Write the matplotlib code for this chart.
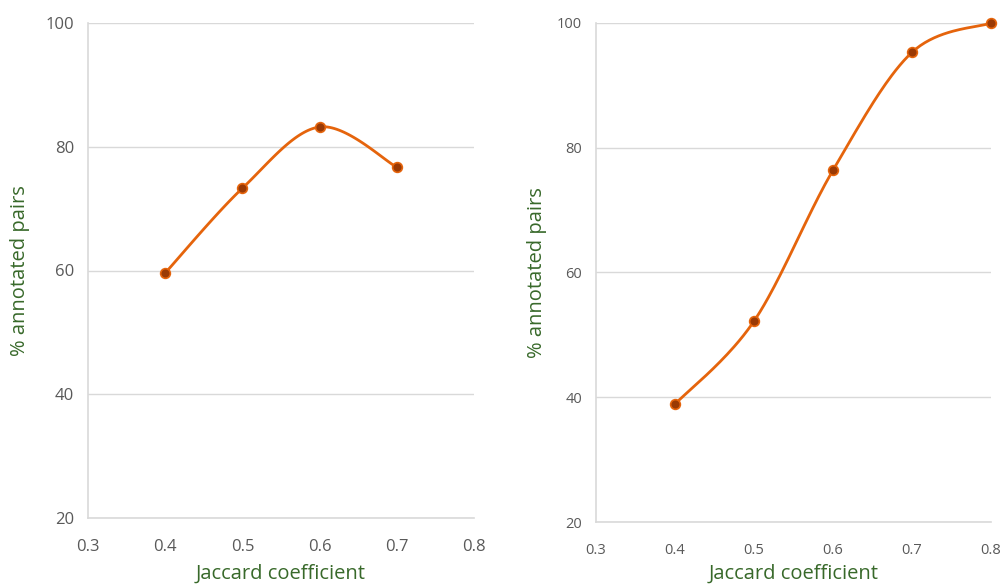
import numpy as np
import matplotlib
matplotlib.use("Agg")
import matplotlib.pyplot as plt

x_left = [0.4, 0.5, 0.6, 0.7]
y_left = [59.6, 73.3, 83.2, 76.7]
x_right = [0.4, 0.5, 0.6, 0.7, 0.8]
y_right = [38.9, 52.2, 76.4, 95.3, 100.0]
xticks = [0.3, 0.4, 0.5, 0.6, 0.7, 0.8]
yticks = [20, 40, 60, 80, 100]
xlabel = "Jaccard coefficient"
ylabel = "% annotated pairs"

LINE = "#E5640C"
MFACE = "#9A3A05"
GRID = "#D9D9D9"
TICK = "#595959"
LAB = "#38692A"


def smooth(xs, ys, n=40):
    # Excel-style smoothed line: cubic Bezier with Catmull-Rom control points
    xs = np.asarray(xs, float); ys = np.asarray(ys, float)
    px, py = [], []
    m = len(xs)
    for i in range(m - 1):
        p0 = np.array([xs[max(i - 1, 0)], ys[max(i - 1, 0)]])
        p1 = np.array([xs[i], ys[i]])
        p2 = np.array([xs[i + 1], ys[i + 1]])
        p3 = np.array([xs[min(i + 2, m - 1)], ys[min(i + 2, m - 1)]])
        c1 = p1 + (p2 - p0) / 6.0
        c2 = p2 - (p3 - p1) / 6.0
        t = np.linspace(0, 1, n)[:, None]
        b = ((1 - t) ** 3) * p1 + 3 * ((1 - t) ** 2) * t * c1 + 3 * (1 - t) * t ** 2 * c2 + t ** 3 * p2
        px.extend(b[:, 0]); py.extend(b[:, 1])
    return px, py


W, H = 1003, 586
fig = plt.figure(figsize=(W / 100, H / 100), dpi=100)
plt.rcParams['font.family'] = ['Open Sans', 'DejaVu Sans']


def make_ax(x0, x1, ytop, ybot, xs, ys, tick_fs, ylab_x):
    ax = fig.add_axes([x0 / W, 1 - ybot / H, (x1 - x0) / W, (ybot - ytop) / H])
    sx, sy = smooth(xs, ys)
    ax.plot(sx, sy, color=LINE, lw=2.0, zorder=3, clip_on=False)
    ax.plot(xs, ys, 'o', ms=7, mfc=MFACE, mec=LINE, mew=1.2, zorder=4, clip_on=False)
    ax.set_xlim(0.3, 0.8)
    ax.set_ylim(20, 100)
    ax.set_xticks(xticks)
    ax.set_xticklabels([f"{v:.1f}" for v in xticks])
    ax.set_yticks(yticks)
    ax.set_yticklabels([str(v) for v in yticks])
    ax.grid(axis='y', color=GRID, lw=1.0)
    ax.set_axisbelow(True)
    for s in ['top', 'right']:
        ax.spines[s].set_visible(False)
    for s in ['left', 'bottom']:
        ax.spines[s].set_color(GRID)
        ax.spines[s].set_linewidth(1.2)
    ax.tick_params(length=0, colors=TICK, labelsize=tick_fs)
    ax.tick_params(axis='x', pad=15)
    ax.tick_params(axis='y', pad=10)
    ax.set_xlabel(xlabel, color=LAB, fontsize=14.5)
    ax.xaxis.set_label_coords(0.5, -(574 - ybot) / (ybot - ytop), transform=ax.transAxes)
    ax.xaxis.label.set_va('center')
    ax.set_ylabel(ylabel, color=LAB, fontsize=14.5)
    ax.yaxis.set_label_coords((ylab_x - x0) / (x1 - x0), 0.5)
    ax.yaxis.label.set_va('center')
    return ax


make_ax(88, 474, 23, 518, x_left, y_left, 12, 20)
make_ax(596, 991, 23, 522, x_right, y_right, 10.5, 537)

fig.savefig("out.png", dpi=100)
